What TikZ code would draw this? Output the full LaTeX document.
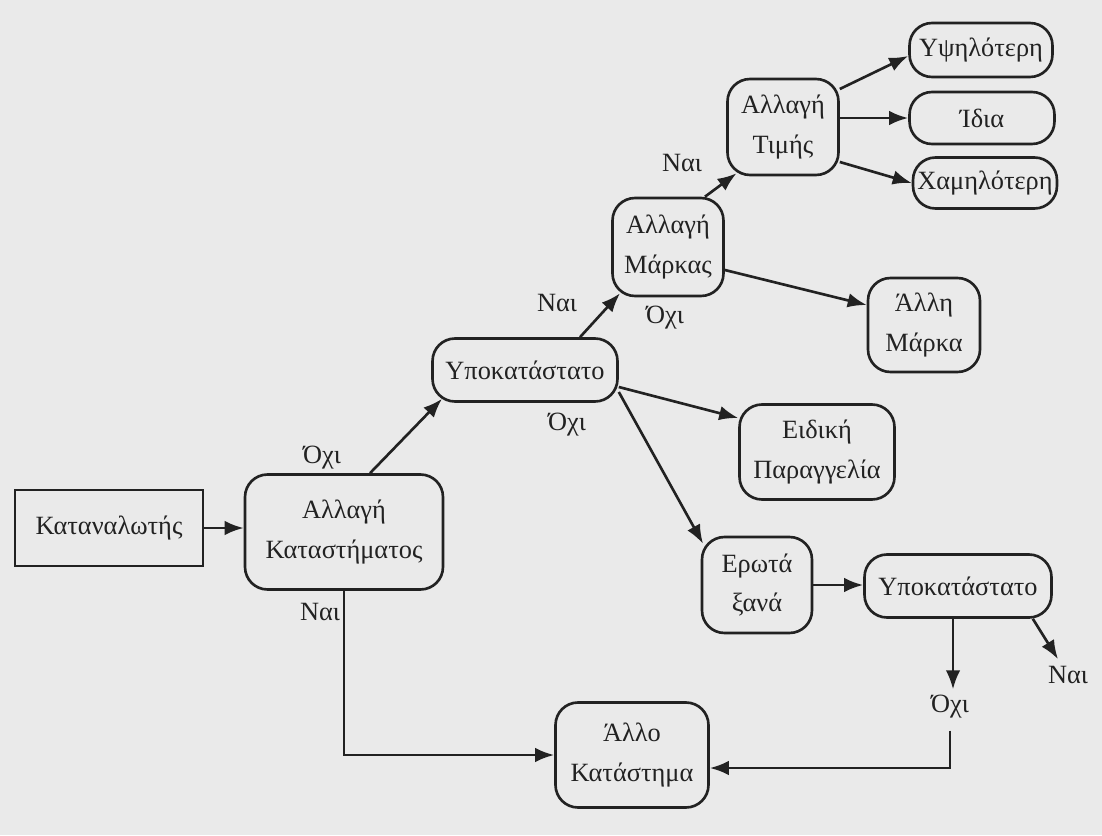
\documentclass[tikz,border=0pt]{standalone}
\usepackage{fontspec}
\setmainfont{Liberation Serif}
\usetikzlibrary{arrows.meta}
\definecolor{paper}{HTML}{EAEAEA}
\definecolor{ink}{HTML}{222222}
\begin{document}
\begin{tikzpicture}[x=0.02cm,y=-0.02cm,
  every node/.style={font=\fontsize{15}{22.5}\selectfont, text=ink},
  box/.style={draw=ink, line width=1.5pt, rounded corners=0.45cm, align=center, inner sep=0pt},
  sqbox/.style={draw=ink, line width=1.5pt, align=center, inner sep=0pt},
  lab/.style={inner sep=1pt},
  arr/.style={draw=ink, line width=1.5pt, -{Latex[length=3.8mm,width=2.9mm]}},
  ln/.style={draw=ink, line width=1.5pt}]
\fill[paper] (0,0) rectangle (1102,835);
\useasboundingbox (0,0) rectangle (1102,835);

% boxes
\node[sqbox, minimum width=3.76cm, minimum height=1.52cm] (kat) at (109,528) {Καταναλωτής};
\node[box, minimum width=3.96cm, minimum height=2.3cm] (allK) at (344,532) {Αλλαγή\\Καταστήματος};
\node[box, minimum width=3.7cm, minimum height=1.26cm] (ypo1) at (525,370) {Υποκατάστατο};
\node[box, minimum width=2.22cm, minimum height=1.96cm] (allM) at (668,247) {Αλλαγή\\Μάρκας};
\node[box, minimum width=2.22cm, minimum height=1.92cm] (allT) at (783,127) {Αλλαγή\\Τιμής};
\node[box, minimum width=2.86cm, minimum height=1.08cm] (ypsi) at (981,50) {Υψηλότερη};
\node[box, minimum width=2.9cm, minimum height=1.04cm] (idia) at (982,118) {Ίδια};
\node[box, minimum width=2.88cm, minimum height=1.02cm] (xam) at (985,183) {Χαμηλότερη};
\node[box, minimum width=2.24cm, minimum height=1.88cm] (allM2) at (924,325) {Άλλη\\Μάρκα};
\node[box, minimum width=3.1cm, minimum height=1.9cm] (eid) at (817,452) {Ειδική\\Παραγγελία};
\node[box, minimum width=2.2cm, minimum height=1.92cm] (erw) at (757,585) {Ερωτά\\ξανά};
\node[box, minimum width=3.74cm, minimum height=1.26cm] (ypo2) at (958,586) {Υποκατάστατο};
\node[box, minimum width=3.06cm, minimum height=2.1cm] (allo) at (632,755) {Άλλο\\Κατάστημα};

% labels
\node[lab] (oxi1) at (322,458) {Όχι};
\node[lab] (nai1) at (320,612) {Ναι};
\node[lab] (nai3) at (557,303) {Ναι};
\node[lab] (oxi3) at (567,425) {Όχι};
\node[lab] (oxi4) at (665,318) {Όχι};
\node[lab] (nai4) at (682,163) {Ναι};
\node[lab] (oxi2) at (950,707) {Όχι};
\node[lab] (nai2) at (1068,675) {Ναι};

% connectors
\draw[arr] (kat.east) -- (kat.east -| allK.west);
\draw[arr] ([xshift=0.52cm]allK.north) -- ([xshift=-1.66cm,yshift=0.08cm]ypo1.south);
\draw[arr] ([xshift=1.1cm]ypo1.north) -- ([xshift=-0.96cm,yshift=0.08cm]allM.south);
\draw[arr] ([xshift=0.74cm]allM.north) -- ([xshift=-0.93cm,yshift=0.06cm]allT.south);
\draw[arr] ([yshift=0.76cm]allT.east) -- ([yshift=-0.12cm]ypsi.west);
\draw[arr] ([yshift=0.18cm]allT.east) -- ([yshift=0.18cm]allT.east -| idia.west);
\draw[arr] ([yshift=-0.7cm]allT.east) -- (xam.west);
\draw[arr] ([yshift=-0.46cm]allM.east) -- ([yshift=0.4cm]allM2.west);
\draw[arr] ([yshift=-0.34cm]ypo1.east) -- ([yshift=0.68cm]eid.west);
\draw[arr] ([yshift=-0.44cm]ypo1.east) -- ([xshift=-1.08cm,yshift=-0.16cm]erw.north);
\draw[arr] (erw.east) -- (erw.east -| ypo2.west);
\draw[arr] ([xshift=-0.1cm]ypo2.south) -- ([xshift=-0.1cm,yshift=0.08cm]ypo2.south |- oxi2.north);
\draw[arr] ([xshift=-0.4cm]ypo2.south east) -- ([xshift=-0.2cm,yshift=0.1cm]nai2.north);
\draw[arr] ([yshift=-0.2cm]oxi2.south) |- ([yshift=-0.26cm]allo.east);
\draw[arr] (allK.south) |- (allo.west);
\end{tikzpicture}
\end{document}
